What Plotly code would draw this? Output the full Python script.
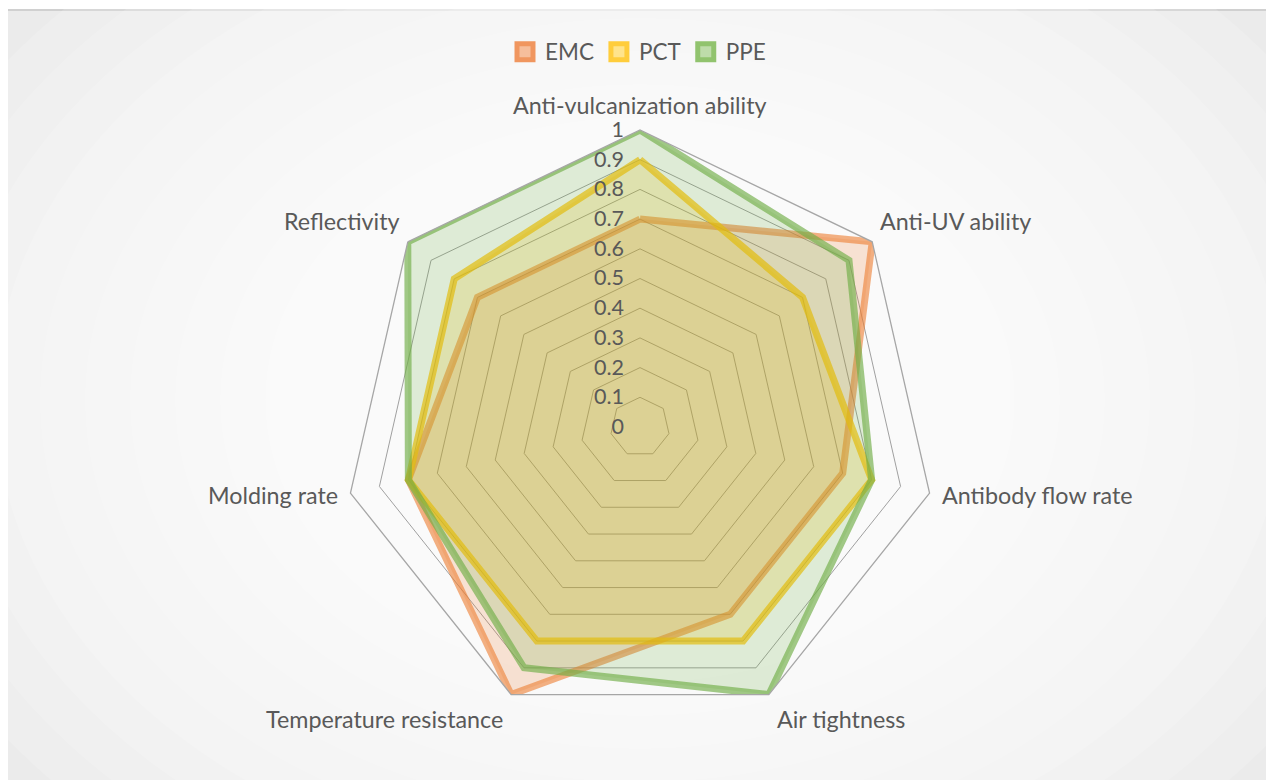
import math
import plotly.graph_objects as go

categories = ["Anti-vulcanization ability", "Anti-UV ability", "Antibody flow rate",
              "Air tightness", "Temperature resistance", "Molding rate", "Reflectivity"]
emc = [0.7, 1.0, 0.7, 0.7, 1.0, 0.8, 0.7]
pct = [0.9, 0.7, 0.8, 0.8, 0.8, 0.8, 0.8]
ppe = [1.0, 0.9, 0.8, 1.0, 0.9, 0.8, 1.0]
radial_ticks = [0, 0.1, 0.2, 0.3, 0.4, 0.5, 0.6, 0.7, 0.8, 0.9, 1]
radial_labels = ["0", "0.1", "0.2", "0.3", "0.4", "0.5", "0.6", "0.7", "0.8", "0.9", "1"]

W, H = 1274, 780
OFF = 8  # page body margin: screen = paper + OFF
FONT = "Lato"
TXT = "#595959"


def px(x):
    return (x - OFF) / W


def py(y):
    return 1 - (y - OFF) / H


series = [
    ("EMC", emc, "rgba(237,125,49,0.6)", "rgba(237,125,49,0.2)",
     "rgba(246,190,155,1)", "rgba(240,150,95,1)"),
    ("PCT", pct, "rgba(255,192,0,0.7)", "rgba(255,192,0,0.2)",
     "rgba(255,228,140,1)", "rgba(255,205,60,1)"),
    ("PPE", ppe, "rgba(112,173,71,0.65)", "rgba(112,173,71,0.2)",
     "rgba(190,220,170,1)", "rgba(145,195,110,1)"),
]

fig = go.Figure()
for name, vals, lc, fc, mc, ml in series:
    fig.add_trace(go.Scatterpolar(
        r=vals + vals[:1], theta=categories + categories[:1], name=name,
        mode="lines", fill="toself", fillcolor=fc, showlegend=False,
        line=dict(color=lc, width=7), hoverinfo="r+theta+name"))
for name, vals, lc, fc, mc, ml in series:
    fig.add_trace(go.Scatterpolar(
        r=[None], theta=[categories[0]], name=name, mode="markers",
        marker=dict(symbol="square", size=16, color=mc, line=dict(color=ml, width=5)),
        showlegend=True, hoverinfo="skip"))

# background: light gray with white radial glow and thin border
shapes = [dict(type="rect", xref="paper", yref="paper", x0=px(7), x1=1.02, y0=-0.02, y1=py(10),
               fillcolor="#ebebeb", line=dict(color="#d0d0d0", width=2), layer="below")]
cx, cy = px(640), py(400)
for i in range(14):
    rx = (780 - i * 45) / W
    ry = (580 - i * 33) / H
    shapes.append(dict(type="circle", xref="paper", yref="paper",
                       x0=cx - rx, x1=cx + rx, y0=cy - ry, y1=cy + ry,
                       fillcolor="rgba(255,255,255,0.15)", line=dict(width=0), layer="below"))

R = 297
CX, CY = 640, 427

# category labels placed around the polygon, Excel style
annotations = []
n = len(categories)
for k, cat in enumerate(categories):
    ang = math.radians(90 - k * 360 / n)
    c, s = math.cos(ang), math.sin(ang)
    vx, vy = CX + R * c, CY - R * s
    if abs(c) < 0.1:
        xa, dx = "center", 0
    elif c > 0:
        xa, dx = "left", 6 if abs(s) > 0.5 else 10
    else:
        xa, dx = "right", -6 if abs(s) > 0.5 else -10
    if s > 0.9:
        dy = -25
    elif s > 0.5:
        dy = -21
    elif s < -0.5:
        dy = 24
    else:
        dy = 2
    annotations.append(dict(text=cat, xref="paper", yref="paper", x=px(vx + dx), y=py(vy + dy),
                            xanchor=xa, yanchor="middle", showarrow=False,
                            font=dict(size=23.3, color=TXT, family=FONT)))

fig.update_layout(
    width=W, height=H,
    margin=dict(l=0, r=0, t=0, b=0),
    paper_bgcolor="white",
    font=dict(family=FONT, color=TXT, size=18),
    shapes=shapes,
    annotations=annotations,
    showlegend=True,
    legend=dict(orientation="h", x=px(638), xanchor="center", y=py(52), yanchor="middle",
                font=dict(size=22.5, color=TXT, family=FONT), bgcolor="rgba(0,0,0,0)",
                itemwidth=30, traceorder="normal"),
    polar=dict(
        domain=dict(x=[px(CX - R), px(CX + R)], y=[py(CY + R), py(CY - R)]),
        bgcolor="rgba(0,0,0,0)",
        gridshape="linear",
        radialaxis=dict(range=[0, 1], tickvals=radial_ticks, ticktext=radial_labels,
                        angle=90, side="counterclockwise", tickangle=90,
                        showline=False, ticks="outside", ticklen=8,
                        tickcolor="rgba(0,0,0,0)", gridcolor="#a0a0a0", gridwidth=1.3,
                        tickfont=dict(size=21.5, color=TXT, family=FONT)),
        angularaxis=dict(rotation=90, direction="clockwise", showgrid=False,
                         showline=True, linecolor="#a6a6a6", linewidth=1.3, ticks="",
                         showticklabels=False),
    ),
)

fig.write_html("out.html")
